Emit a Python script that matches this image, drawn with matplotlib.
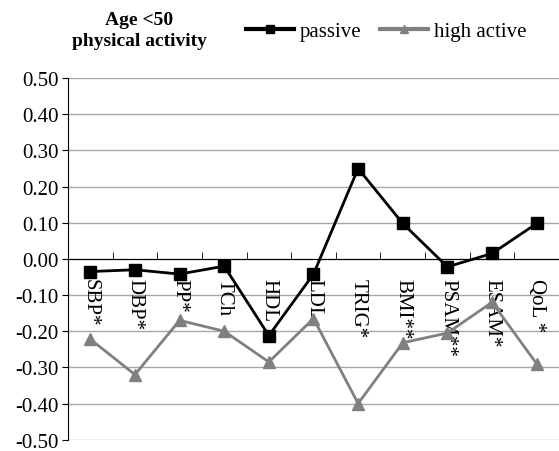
import matplotlib
matplotlib.use('Agg')
import matplotlib.pyplot as plt
import numpy as np

plt.rcParams['font.family'] = ['Liberation Serif', 'DejaVu Serif']

categories = ['SBP*', 'DBP*', 'PP*', 'TCh', 'HDL', 'LDL', 'TRIG*', 'BMI**', 'PSAM**', 'ESAM*', 'QoL *']
passive = [-0.035, -0.030, -0.042, -0.020, -0.212, -0.042, 0.250, 0.098, -0.022, 0.015, 0.098]
high_active = [-0.222, -0.320, -0.170, -0.200, -0.285, -0.165, -0.400, -0.232, -0.205, -0.120, -0.290]
yticks = [0.5, 0.4, 0.3, 0.2, 0.1, 0.0, -0.1, -0.2, -0.3, -0.4, -0.5]


def main() -> int:
    fig = plt.figure(figsize=(5.59, 4.52), dpi=100)
    ax = fig.add_axes([0.1216, 0.025, 0.8784, 0.80])
    x = np.arange(len(categories))

    for y in yticks:
        ax.axhline(y, color='#a6a6a6', lw=1, zorder=0)

    l1, = ax.plot(x, passive, color='black', lw=2, marker='s', ms=8, label='passive', zorder=3)
    l2, = ax.plot(x, high_active, color='#808080', lw=2, marker='^', ms=8, label='high active', zorder=2)

    ax.set_xlim(-0.5, len(categories) - 0.5)
    ax.set_ylim(-0.5, 0.5)
    ax.set_yticks(yticks)
    ax.set_yticklabels(['%.2f' % v for v in yticks], fontsize=15)
    ax.tick_params(axis='y', direction='out', length=4, color='black', pad=3)

    ax.spines['bottom'].set_position(('data', 0))
    ax.spines['top'].set_visible(False)
    ax.spines['right'].set_visible(False)
    ax.set_xticks(x)
    ax.set_xticklabels(categories, rotation=270, fontsize=15, va='top', ha='center')
    ax.tick_params(axis='x', which='major', length=0, pad=14)
    ax.set_xticks(np.arange(len(categories) + 1) - 0.5, minor=True)
    ax.tick_params(axis='x', which='minor', direction='in', length=5)

    fig.text(0.249, 0.931, 'Age <50\nphysical activity', ha='center', va='center',
             fontsize=14, fontweight='bold', linespacing=1.3)
    leg = fig.legend(handles=[l1, l2], loc='center', bbox_to_anchor=(0.691, 0.929), ncol=2,
                     frameon=False, fontsize=15, handlelength=2.3, columnspacing=0.9,
                     handletextpad=0.3, markerscale=0.7)
    for ln in leg.get_lines():
        ln.set_linewidth(3)

    fig.savefig('out.png', dpi=100)
    return 0


if __name__ == '__main__':
    main()
